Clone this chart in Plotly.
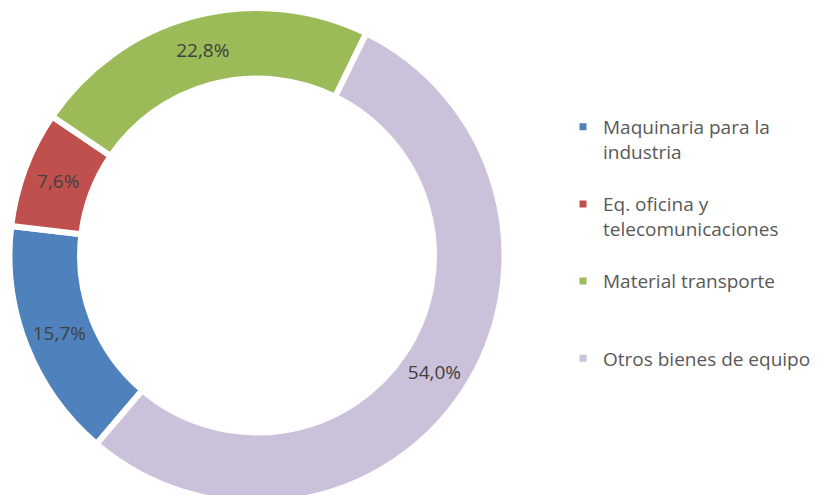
import plotly.graph_objects as go

categories = ["Maquinaria para la<br>industria<br> ",
              "Eq. oficina y<br>telecomunicaciones<br> ",
              "Material transporte<br> <br> ",
              "Otros bienes de equipo"]
values = [15.7, 7.6, 22.8, 54.0]
colors = ["#4F81BD", "#C0504D", "#9BBB59", "#CCC1DA"]

fig = go.Figure(go.Pie(
    labels=categories,
    values=values,
    hole=0.715,
    sort=False,
    direction="clockwise",
    rotation=220.4,
    marker=dict(colors=colors, line=dict(color="white", width=6)),
    texttemplate="%{value:.1f}%",
    textposition="inside",
    insidetextorientation="horizontal",
    textfont=dict(family="Open Sans", size=19, color="#404040"),
    domain=dict(x=[0, 0.60], y=[0, 1]),
    hoverinfo="percent",
))

fig.update_layout(
    width=830, height=495,
    margin=dict(l=0, r=0, t=0, b=0),
    paper_bgcolor="white",
    separators=",.",
    showlegend=True,
    legend=dict(
        x=555/830, xanchor="left", y=1 - 100/495, yanchor="top",
        font=dict(family="Open Sans", size=19, color="#595959"),
        valign="top",
        bgcolor="rgba(0,0,0,0)",
    ),
)

fig.write_html("out.html")
